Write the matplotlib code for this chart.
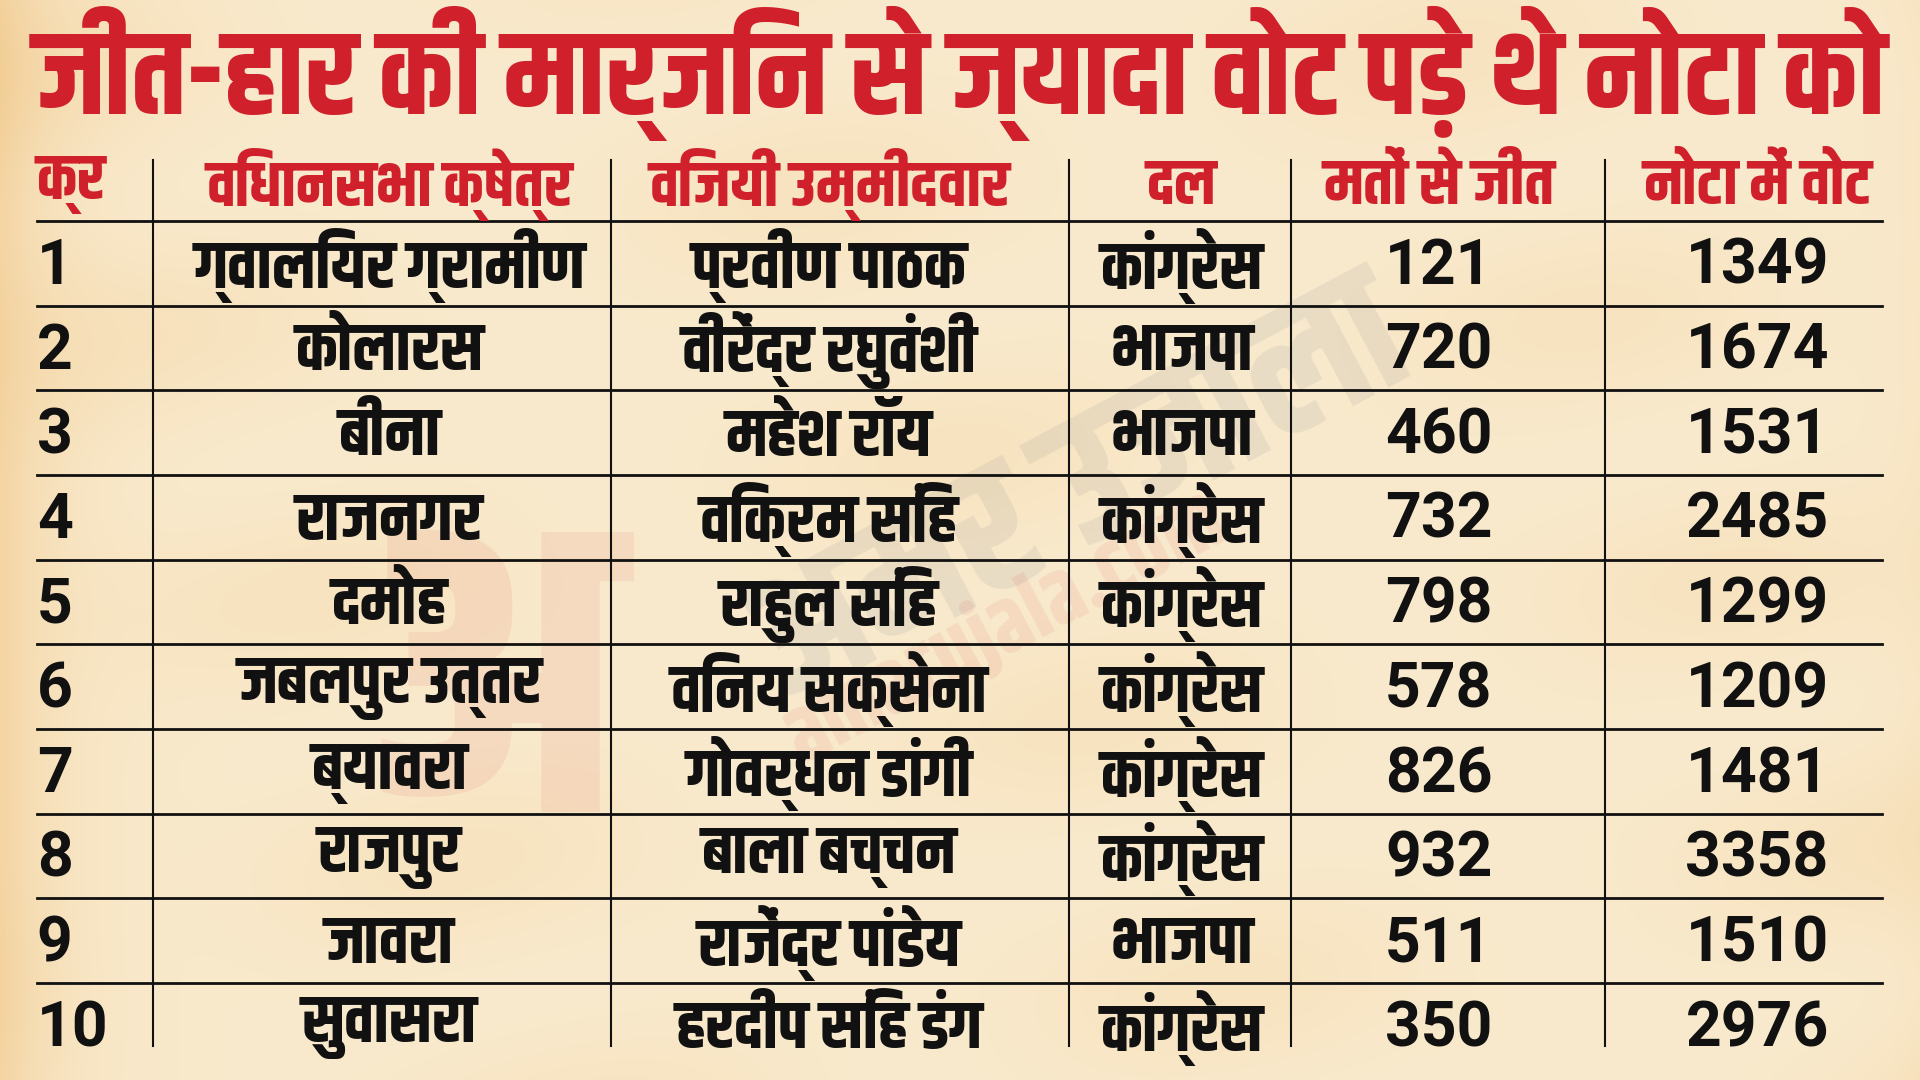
import matplotlib
matplotlib.use('Agg')
import matplotlib.pyplot as plt
from matplotlib import font_manager
from matplotlib.ft2font import FT2Font
import numpy as np

# ---------------- data ----------------
title = "जीत-हार की मार्जिन से ज्यादा वोट पड़े थे नोटा को"
headers = ["क्र", "विधानसभा क्षेत्र", "विजयी उम्मीदवार", "दल", "मतों से जीत", "नोटा में वोट"]
serial = [1, 2, 3, 4, 5, 6, 7, 8, 9, 10]
constituencies = ["ग्वालियर ग्रामीण", "कोलारस", "बीना", "राजनगर", "दमोह",
                  "जबलपुर उत्तर", "ब्यावरा", "राजपुर", "जावरा", "सुवासरा"]
winners = ["प्रवीण पाठक", "वीरेंद्र रघुवंशी", "महेश रॉय", "विक्रम सिंह", "राहुल सिंह",
           "विनय सक्सेना", "गोवर्धन डांगी", "बाला बच्चन", "राजेंद्र पांडेय", "हरदीप सिंह डंग"]
parties = ["कांग्रेस", "भाजपा", "भाजपा", "कांग्रेस", "कांग्रेस",
           "कांग्रेस", "कांग्रेस", "कांग्रेस", "भाजपा", "कांग्रेस"]
margins = [121, 720, 460, 732, 798, 578, 826, 932, 511, 350]
nota_votes = [1349, 1674, 1531, 2485, 1299, 1209, 1481, 3358, 1510, 2976]

# ---------------- fonts ----------------
def devanagari_fonts():
    found = set()
    for f in font_manager.fontManager.ttflist:
        try:
            cm = FT2Font(f.fname).get_charmap()
        except Exception:
            continue
        if 0x0915 in cm:
            found.add(f.name)
    return found

installed = {f.name for f in font_manager.fontManager.ttflist}
found = devanagari_fonts()
preferred = ['Khand', 'Pragati Narrow', 'Yantramanav', 'Mukta', 'Hind']
deva = next((p for p in preferred if p in found), next(iter(sorted(found)), None))
text_fam = ([deva] if deva else []) + ['DejaVu Sans']
num_fam = [n for n in ['Liberation Sans Narrow', 'Roboto'] if n in installed][:1] + text_fam
plt.rcParams['font.family'] = text_fam

RED = '#D0202B'
W, H = 1568, 880

fig = plt.figure(figsize=(19.2, 10.8), dpi=100)
ax = fig.add_axes([0, 0, 1, 1])
ax.set_xlim(0, W)
ax.set_ylim(H, 0)
ax.axis('off')

# parchment background (smooth, deterministic)
yy, xx = np.mgrid[0:220, 0:392] / np.array([220.0, 392.0])[:, None, None]
base = np.array([249, 234, 205]) / 255.0
warm = np.array([240, 196, 130]) / 255.0
t = (0.55 * np.exp(-xx / 0.03) + 0.18 * (0.5 + 0.5 * np.sin(yy * 23 + xx * 9))
     * (0.5 + 0.5 * np.cos(xx * 17 - yy * 5)) + 0.12 * np.exp(-(1 - xx) / 0.02))
t = np.clip(t, 0, 1)[..., None]
bg = base * (1 - t) + warm * t
ax.imshow(bg, extent=(0, W, H, 0), aspect='auto', zorder=0, interpolation='bicubic')

# watermark
ax.text(400, 560, "अ", fontsize=300, color=RED, alpha=0.07,
        ha='center', va='center', fontweight='bold', zorder=1)
ax.text(880, 400, "अमर उजाला", fontsize=130, color='#9A9A9A', alpha=0.16,
        rotation=28, ha='center', va='center', fontweight='bold', zorder=1)
ax.text(820, 510, "amarujala.com", fontsize=64, color=RED, alpha=0.08,
        rotation=28, ha='center', va='center', fontweight='bold', zorder=1)

# title
ax.text(W / 2, 60, title, ha='center', va='center', fontsize=86,
        fontweight='bold', color=RED, zorder=3)

# table layout
col_x = [30, 318, 677, 965, 1175, 1435]
col_ha = ['left', 'center', 'center', 'center', 'center', 'center']
numeric = [True, False, False, False, True, True]
sep_x = [125, 499, 873, 1054, 1311]
header_y = 150
row_top = 180
row_h = 69

for x, ha, h in zip(col_x, col_ha, headers):
    ax.text(x, header_y, h, ha=ha, va='center', fontsize=46, fontweight='bold',
            color=RED, zorder=3)

for i in range(len(serial)):
    yc = row_top + row_h * i + row_h / 2 + 2
    vals = [str(serial[i]), constituencies[i], winners[i], parties[i],
            str(margins[i]), str(nota_votes[i])]
    for x, ha, v, isnum in zip(col_x, col_ha, vals, numeric):
        if isnum:
            ax.text(x, yc + 1, v, ha=ha, va='center', fontsize=45, fontweight='bold',
                    color='#111111', zorder=3, family=num_fam)
        else:
            ax.text(x, yc, v, ha=ha, va='center', fontsize=48, fontweight='bold',
                    color='#111111', zorder=3)

for i in range(len(serial)):
    y = row_top + row_h * i
    ax.plot([30, 1537], [y, y], color='#111111', lw=2, zorder=2)

for x in sep_x:
    ax.plot([x, x], [130, 852], color='#111111', lw=1.5, zorder=2)

fig.savefig('out.png', dpi=100)
